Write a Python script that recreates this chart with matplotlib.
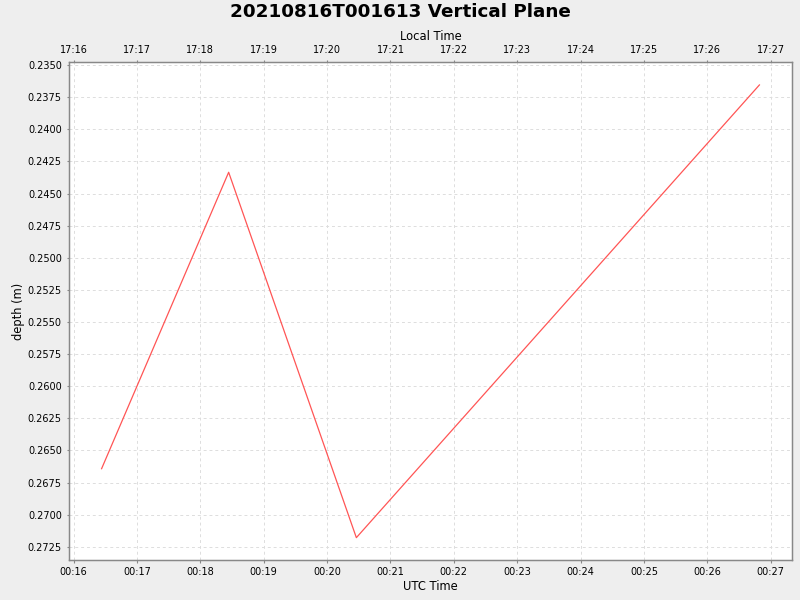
import matplotlib
matplotlib.use("Agg")
import matplotlib.pyplot as plt
import matplotlib.dates as mdates
from matplotlib.ticker import FuncFormatter, MultipleLocator
import numpy as np
import datetime as dt

# Data (UTC times and depth in metres)
utc_times = ["2021-08-16 00:16:26.5", "2021-08-16 00:18:26.8",
             "2021-08-16 00:20:27.7", "2021-08-16 00:26:49.3"]
depths = [0.26642, 0.24334, 0.27179, 0.23654]
local_offset_hours = -7
title = "20210816T001613 Vertical Plane"

times = [dt.datetime.strptime(t, "%Y-%m-%d %H:%M:%S.%f") for t in utc_times]
xn = mdates.date2num(times)

bg = "#EEEEEE"
fig = plt.figure(figsize=(8, 6), dpi=100, facecolor=bg)
ax = fig.add_axes([68.7/800, 1-560.3/600, (792.3-68.7)/800, (560.3-62.3)/600])
ax.set_facecolor("white")

ax.plot(xn, depths, color="#FF5555", linewidth=0.9)

# limits with 5% margins
xr = xn.max() - xn.min()
ax.set_xlim(xn.min() - 0.05*xr, xn.max() + 0.05*xr)
dr = max(depths) - min(depths)
ax.set_ylim(max(depths) + 0.05*dr, min(depths) - 0.05*dr)

ax.xaxis.set_major_locator(mdates.MinuteLocator())
ax.xaxis.set_major_formatter(mdates.DateFormatter("%H:%M"))
ax.yaxis.set_major_locator(MultipleLocator(0.0025))
ax.yaxis.set_major_formatter(FuncFormatter(lambda v, p: f"{v:.4f}"))

ax.grid(True, color="#DDDDDD", linestyle=(0, (3, 3)), linewidth=0.7)
for s in ax.spines.values():
    s.set_color("#888888")
    s.set_linewidth(1.0)
ax.tick_params(axis="both", labelsize=7, length=1.8, width=0.8, color="#888888",
               labelcolor="black", pad=3.2)

ax.set_xlabel("UTC Time", fontsize=8.3, labelpad=2)
ax.set_ylabel("depth (m)", fontsize=8.3, labelpad=2)

ax2 = ax.twiny()
ax2.set_xlim(ax.get_xlim())
ax2.xaxis.set_major_locator(mdates.MinuteLocator())
ax2.xaxis.set_major_formatter(FuncFormatter(
    lambda v, p: (mdates.num2date(v) + dt.timedelta(hours=local_offset_hours)).strftime("%H:%M")))
ax2.tick_params(axis="x", labelsize=7, length=1.8, width=0.8, color="#888888", pad=3.2)
ax2.set_xlabel("Local Time", fontsize=8.3, labelpad=3.5)
for s in ax2.spines.values():
    s.set_color("#888888")

fig.text(0.5, 1-12/600, title, ha="center", va="center", fontsize=13.2, fontweight="bold")

fig.savefig("out.png", dpi=100, facecolor=bg)
